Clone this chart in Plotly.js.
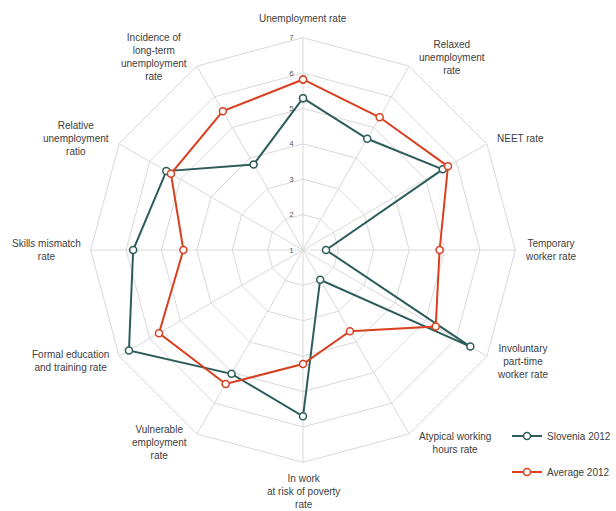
<!DOCTYPE html>
<html>
<head>
<meta charset="utf-8">
<script src="https://cdn.plot.ly/plotly-3.0.1.min.js"></script>
<style>html,body{margin:0;padding:0;background:#fff;}#chart{width:616px;height:511px;}</style>
</head>
<body>
<div id="chart"></div>
<script>
var categories = [
  "Unemployment rate",
  "Relaxed unemployment rate",
  "NEET rate",
  "Temporary worker rate",
  "Involuntary part-time worker rate",
  "Atypical working hours rate",
  "In work at risk of poverty rate",
  "Vulnerable employment rate",
  "Formal education and training rate",
  "Skills mismatch rate",
  "Relative unemployment ratio",
  "Incidence of long-term unemployment rate"
];
var tickLabels = [
  "Unemployment rate",
  "Relaxed<br>unemployment<br>rate",
  "NEET rate",
  "Temporary<br>worker rate",
  "Involuntary<br>part-time<br>worker rate",
  "Atypical working<br>hours rate",
  "In work<br>at risk of poverty<br>rate",
  "Vulnerable<br>employment<br>rate",
  "Formal education<br>and training rate",
  "Skills mismatch<br>rate",
  "Relative<br>unemployment<br>ratio",
  "Incidence of<br>long-term<br>unemployment<br>rate"
];
var slovenia2012 = [5.29, 4.63, 5.56, 1.65, 6.46, 1.97, 5.70, 5.04, 6.68, 5.80, 5.46, 3.79];
var average2012  = [5.82, 5.33, 5.73, 4.86, 5.33, 3.65, 4.22, 5.37, 5.70, 4.38, 5.31, 5.53];
var radialTicks = [1, 2, 3, 4, 5, 6, 7];

var W = 616, H = 511;
var radialRange = [1, 7];
var domainX = [0.1477, 0.8393], domainY = [0.0939, 0.9276];

function closed(a) { return a.concat([a[0]]); }

var traces = [
  {
    type: "scatterpolar", mode: "lines+markers", name: "Slovenia 2012",
    r: closed(slovenia2012), theta: closed(categories),
    line: {color: "#2d5d5b", width: 2},
    marker: {symbol: "circle", size: 7, color: "#ffffff", line: {color: "#2d5d5b", width: 1.5}},
    legendgroup: "a", hoverinfo: "skip"
  },
  {
    type: "scatterpolar", mode: "lines+markers", name: "Average 2012",
    r: closed(average2012), theta: closed(categories),
    line: {color: "#d8401f", width: 2},
    marker: {symbol: "circle", size: 7, color: "#ffffff", line: {color: "#d8401f", width: 1.5}},
    legendgroup: "b", hoverinfo: "skip"
  }
];

// category labels placed just outside each vertex of the outer frame, centre-aligned
var cxPaper = (domainX[0] + domainX[1]) / 2;
var cyPaper = (domainY[0] + domainY[1]) / 2;
var radiusPx = Math.min((domainX[1] - domainX[0]) * W, (domainY[1] - domainY[0]) * H) / 2;
var annotations = categories.map(function (c, i) {
  var ang = i * 2 * Math.PI / categories.length;
  var sx = Math.sin(ang), cy = Math.cos(ang);
  var a = {
    xref: "paper", yref: "paper",
    x: cxPaper + radiusPx * sx / W,
    y: cyPaper + radiusPx * cy / H,
    text: tickLabels[i], showarrow: false, align: "center",
    font: {family: "Liberation Sans, Arial, sans-serif", size: 10, color: "#404040"}
  };
  if (Math.abs(sx) < 0.01) {
    a.xanchor = "center";
    a.yanchor = cy > 0 ? "bottom" : "top";
    a.yshift = cy > 0 ? 11 : -8;
  } else {
    a.xanchor = sx > 0 ? "left" : "right";
    a.yanchor = "middle";
    a.xshift = sx > 0 ? 8 : -8;
    a.yshift = cy * 9.5;
  }
  return a;
});

var layout = {
  width: W, height: H,
  margin: {l: 0, r: 0, t: 0, b: 0},
  paper_bgcolor: "#ffffff",
  font: {family: "Liberation Sans, Arial, sans-serif", size: 10, color: "#404040"},
  showlegend: true,
  legend: {x: 0.826, y: 0.175, xanchor: "left", yanchor: "top", traceorder: "grouped", tracegroupgap: 17,
           font: {size: 10, color: "#404040"}, bgcolor: "rgba(0,0,0,0)"},
  annotations: annotations,
  polar: {
    domain: {x: domainX, y: domainY},
    gridshape: "linear",
    bgcolor: "#ffffff",
    angularaxis: {
      type: "category", categoryarray: categories,
      direction: "clockwise", rotation: 90,
      showticklabels: false, ticks: "",
      showline: true, linecolor: "#d9d9d9", linewidth: 1,
      gridcolor: "#d9d9d9", gridwidth: 1
    },
    radialaxis: {
      range: radialRange, angle: 90, tickangle: 90,
      tickmode: "array", tickvals: radialTicks,
      ticks: "outside", ticklen: 6, tickcolor: "rgba(0,0,0,0)", showline: false,
      gridcolor: "#d9d9d9", gridwidth: 1,
      side: "counterclockwise",
      tickfont: {size: 8, color: "#595959"}
    }
  }
};

Plotly.newPlot("chart", traces, layout, {displayModeBar: false, staticPlot: true});
</script>
</body>
</html>
